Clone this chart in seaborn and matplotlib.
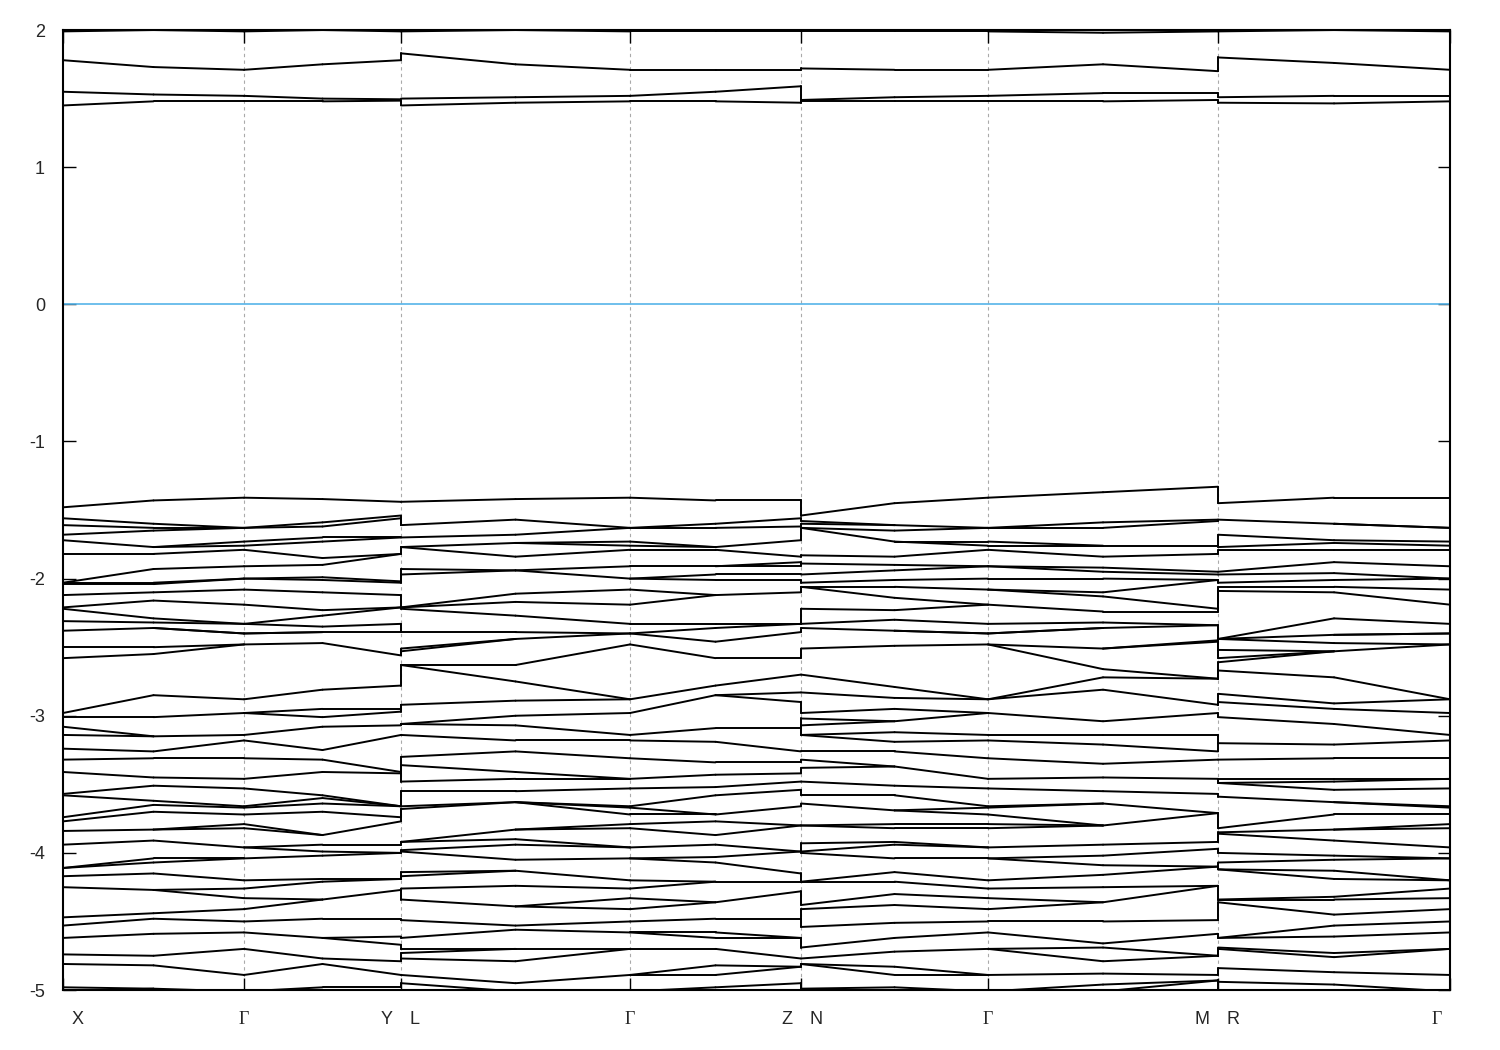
import numpy as np
import pandas as pd
import matplotlib.pyplot as plt
import matplotlib.transforms as mtransforms
import seaborn as sns

# k-path (distance along path): high-symmetry points and segment midpoints
k_pos = [0, 90.5, 181, 259.5, 338, 338, 452.5, 567, 652.5, 738, 738, 831.5, 925, 1040, 1155, 1155, 1271, 1387]
tick_pos = [0, 181, 338, 567, 738, 925, 1155, 1387]

# eigenvalues (eV) read at each k column, conduction + valence
e_X = [1.99, 1.78, 1.55, 1.45,
       -1.48, -1.56, -1.61, -1.68, -1.72, -1.82, -2.03, -2.04, -2.12, -2.21, -2.22, -2.31, -2.38, -2.50, -2.58,
       -2.98, -3.01, -3.08, -3.14, -3.24, -3.32, -3.41, -3.57, -3.58, -3.74, -3.77, -3.84, -3.94, -4.11, -4.17,
       -4.25, -4.47, -4.53, -4.62, -4.74, -4.81, -4.98, -5.01]
e_XG = [2.00, 1.73, 1.53, 1.48,
        -1.43, -1.60, -1.63, -1.65, -1.77, -1.82, -1.93, -2.03, -2.04, -2.10, -2.16, -2.29, -2.32, -2.36, -2.50,
        -2.55, -2.85, -3.01, -3.15, -3.26, -3.31, -3.45, -3.51, -3.62, -3.65, -3.70, -3.83, -3.91, -4.04, -4.07,
        -4.15, -4.27, -4.44, -4.48, -4.59, -4.75, -4.82, -4.99]
e_G = [1.99, 1.71, 1.52, 1.48,
       -1.41, -1.63, -1.63, -1.73, -1.76, -1.79, -1.91, -2.00, -2.08, -2.19, -2.33, -2.40, -2.40, -2.48, -2.88,
       -2.98, -3.14, -3.18, -3.31, -3.46, -3.53, -3.66, -3.67, -3.72, -3.79, -3.82, -3.96, -4.04, -4.20, -4.26,
       -4.33, -4.41, -4.50, -4.58, -4.70, -4.89, -5.01]
e_GY = [2.00, 1.75, 1.50, 1.48,
        -1.42, -1.59, -1.62, -1.70, -1.73, -1.85, -1.90, -1.99, -2.01, -2.10, -2.23, -2.27, -2.35, -2.39, -2.47,
        -2.81, -2.95, -3.01, -3.08, -3.25, -3.32, -3.41, -3.58, -3.60, -3.64, -3.70, -3.87, -3.94, -3.99, -4.02,
        -4.19, -4.21, -4.34, -4.48, -4.62, -4.77, -4.81, -4.98]
e_Y = [1.99, 1.78, 1.495, 1.485,
       -1.44, -1.54, -1.56, -1.70, -1.82, -2.02, -2.03, -2.12, -2.21, -2.33, -2.39, -2.56, -2.78, -2.95, -2.97,
       -3.07, -3.14, -3.41, -3.42, -3.66, -3.74, -3.77, -3.94, -4.00, -4.19, -4.27, -4.48, -4.61, -4.67, -4.79,
       -4.89, -4.98]
e_L = [1.99, 1.83, 1.50, 1.45,
       -1.44, -1.61, -1.70, -1.77, -1.93, -1.97, -2.21, -2.22, -2.39, -2.51, -2.53, -2.63, -2.92, -3.06, -3.14,
       -3.30, -3.36, -3.48, -3.55, -3.66, -3.68, -3.92, -3.98, -3.99, -4.14, -4.17, -4.26, -4.34, -4.49, -4.62,
       -4.70, -4.73, -4.77, -4.89, -4.95]
e_LG = [2.00, 1.75, 1.51, 1.47,
        -1.42, -1.57, -1.68, -1.74, -1.84, -1.94, -2.11, -2.17, -2.27, -2.39, -2.44, -2.63, -2.75, -2.89, -3.00,
        -3.07, -3.18, -3.26, -3.41, -3.46, -3.55, -3.63, -3.83, -3.90, -3.94, -4.05, -4.13, -4.24, -4.39, -4.53,
        -4.56, -4.70, -4.79, -4.95, -5.01]
e_GZ = [1.99, 1.71, 1.55, 1.48,
        -1.43, -1.60, -1.63, -1.77, -1.79, -1.91, -1.97, -2.01, -2.12, -2.33, -2.36, -2.46, -2.58, -2.78, -2.85,
        -3.09, -3.19, -3.34, -3.43, -3.52, -3.58, -3.72, -3.77, -3.87, -3.94, -4.03, -4.07, -4.21, -4.36, -4.48,
        -4.58, -4.62, -4.70, -4.82, -4.89, -4.98]
e_Z = [1.99, 1.71, 1.59, 1.47,
       -1.43, -1.56, -1.62, -1.72, -1.84, -1.88, -1.91, -1.97, -2.01, -2.10, -2.33, -2.39, -2.58, -2.70, -2.83,
       -2.90, -3.09, -3.26, -3.34, -3.42, -3.48, -3.54, -3.66, -3.80, -3.99, -4.15, -4.21, -4.28, -4.48, -4.62,
       -4.77, -4.83, -4.95]
e_N = [1.99, 1.72, 1.49, 1.48,
       -1.54, -1.58, -1.60, -1.63, -1.83, -1.89, -1.97, -2.03, -2.06, -2.22, -2.33, -2.36, -2.51, -2.70, -2.83,
       -2.98, -3.02, -3.07, -3.14, -3.26, -3.32, -3.38, -3.48, -3.58, -3.64, -3.80, -3.93, -3.99, -4.00, -4.21,
       -4.38, -4.41, -4.54, -4.69, -4.77, -4.81, -4.99]
e_NG = [1.99, 1.71, 1.51, 1.48,
        -1.45, -1.61, -1.65, -1.73, -1.84, -1.90, -1.94, -2.01, -2.06, -2.14, -2.23, -2.30, -2.38, -2.49, -2.79,
        -2.87, -2.95, -3.04, -3.12, -3.19, -3.26, -3.37, -3.51, -3.58, -3.69, -3.79, -3.82, -3.92, -3.94, -4.04,
        -4.14, -4.21, -4.30, -4.38, -4.51, -4.62, -4.72, -4.83, -4.89, -4.98]
e_GM = [1.98, 1.75, 1.54, 1.48,
        -1.37, -1.59, -1.63, -1.76, -1.84, -1.92, -1.95, -2.00, -2.10, -2.13, -2.24, -2.32, -2.36, -2.51, -2.66,
        -2.72, -2.81, -3.04, -3.14, -3.21, -3.35, -3.45, -3.55, -3.64, -3.80, -3.94, -4.02, -4.09, -4.16, -4.25,
        -4.36, -4.50, -4.66, -4.69, -4.79, -4.88, -4.96, -5.01]
e_M = [1.99, 1.70, 1.54, 1.49,
       -1.33, -1.57, -1.58, -1.76, -1.82, -1.95, -1.97, -2.01, -2.22, -2.24, -2.34, -2.45, -2.46, -2.73, -2.92,
       -2.98, -3.14, -3.26, -3.32, -3.46, -3.57, -3.71, -3.92, -3.97, -4.10, -4.24, -4.49, -4.59, -4.75, -4.89,
       -4.93]
e_R = [1.99, 1.80, 1.51, 1.47,
       -1.45, -1.57, -1.68, -1.77, -1.79, -1.95, -1.97, -2.03, -2.06, -2.09, -2.44, -2.52, -2.58, -2.61, -2.67,
       -2.84, -2.90, -3.01, -3.20, -3.32, -3.46, -3.49, -3.59, -3.82, -3.85, -3.86, -4.00, -4.07, -4.12, -4.34,
       -4.36, -4.62, -4.69, -4.70, -4.84, -4.94, -5.01]
e_RG = [2.00, 1.76, 1.52, 1.465,
        -1.41, -1.60, -1.72, -1.74, -1.79, -1.88, -1.96, -2.01, -2.06, -2.10, -2.29, -2.41, -2.47, -2.53, -2.72,
        -2.91, -2.95, -3.06, -3.21, -3.31, -3.46, -3.48, -3.54, -3.63, -3.72, -3.83, -3.91, -4.02, -4.05, -4.13,
        -4.19, -4.32, -4.34, -4.45, -4.53, -4.61, -4.73, -4.76, -4.87, -4.96, -5.00]

columns = [e_X, e_XG, e_G, e_GY, e_Y, e_L, e_LG, e_G, e_GZ, e_Z, e_N, e_NG, e_G, e_GM, e_M, e_R, e_RG, e_G]
tick_labels = ["X", "Γ", "Y", "L", "Γ", "Z", "N", "Γ", "M", "R", "Γ"]


def link(a, b):
    # order-preserving matching of two sorted eigenvalue lists (lines may merge)
    n, m = len(a), len(b)
    cost = np.full((n + 1, m + 1), np.inf)
    cost[0, 0] = 0
    for i in range(1, n + 1):
        for j in range(1, m + 1):
            cost[i, j] = abs(a[i - 1] - b[j - 1]) + min(cost[i - 1, j - 1], cost[i - 1, j], cost[i, j - 1])
    i, j, pairs = n, m, []
    while i > 0 and j > 0:
        pairs.append((i - 1, j - 1))
        step = np.argmin([cost[i - 1, j - 1], cost[i - 1, j], cost[i, j - 1]])
        if step == 0:
            i, j = i - 1, j - 1
        elif step == 1:
            i -= 1
        else:
            j -= 1
    return pairs


rows = []
seg = 0
for c in range(len(columns) - 1):
    a = sorted(columns[c], reverse=True)
    b = sorted(columns[c + 1], reverse=True)
    for i, j in link(a, b):
        rows.append({"k": k_pos[c], "E": a[i], "seg": seg})
        rows.append({"k": k_pos[c + 1], "E": b[j], "seg": seg})
        seg += 1
df = pd.DataFrame(rows)

sns.set_style("ticks")
plt.rcParams["font.family"] = ["Liberation Sans", "DejaVu Sans"]
plt.rcParams["axes.unicode_minus"] = False

fig = plt.figure(figsize=(15, 10.5), dpi=100)
ax = fig.add_axes([0.042, 0.0571, 0.9247, 0.9143])

for x in tick_pos[1:-1]:
    ax.axvline(x, color="#aaaaaa", lw=0.8, ls=(0, (3, 3)), zorder=0)
ax.axhline(0, color="#56b4e9", lw=1.2, zorder=1)

sns.lineplot(data=df, x="k", y="E", units="seg", estimator=None, sort=False,
             color="black", lw=1.4, ax=ax, legend=False)

ax.set_xlim(tick_pos[0], tick_pos[-1])
ax.set_ylim(-5, 2)
ax.set_yticks(range(-5, 3))
ax.set_xticks(tick_pos)
ax.set_xticklabels([])
ax.set_xlabel("")
ax.set_ylabel("")
ax.tick_params(axis="both", direction="in", length=9, width=1, top=True, right=True,
               labelsize=13, color="black")
ax.tick_params(axis="y", pad=13)
for s in ax.spines.values():
    s.set_linewidth(1.5)
    s.set_color("black")

# k-point labels beside the segment boundaries
trans = mtransforms.blended_transform_factory(ax.transData, ax.transAxes)
label_spots = [(0, "left"), (181, "center"), (338, "right"), (338, "left"),
               (567, "center"), (738, "right"), (738, "left"), (925, "center"),
               (1155, "right"), (1155, "left"), (1387, "right")]
for (x, ha), txt in zip(label_spots, tick_labels):
    dx = {"left": 6, "right": -6, "center": 0}[ha]
    off = mtransforms.offset_copy(trans, fig=fig, x=dx, y=0, units="points")
    fam = ["Liberation Serif", "DejaVu Serif"] if txt == "Γ" else ["Liberation Sans", "DejaVu Sans"]
    ax.text(x, -0.031, txt, transform=off, ha=ha, va="center", fontsize=13, family=fam)

fig.savefig("out.png", dpi=100)
